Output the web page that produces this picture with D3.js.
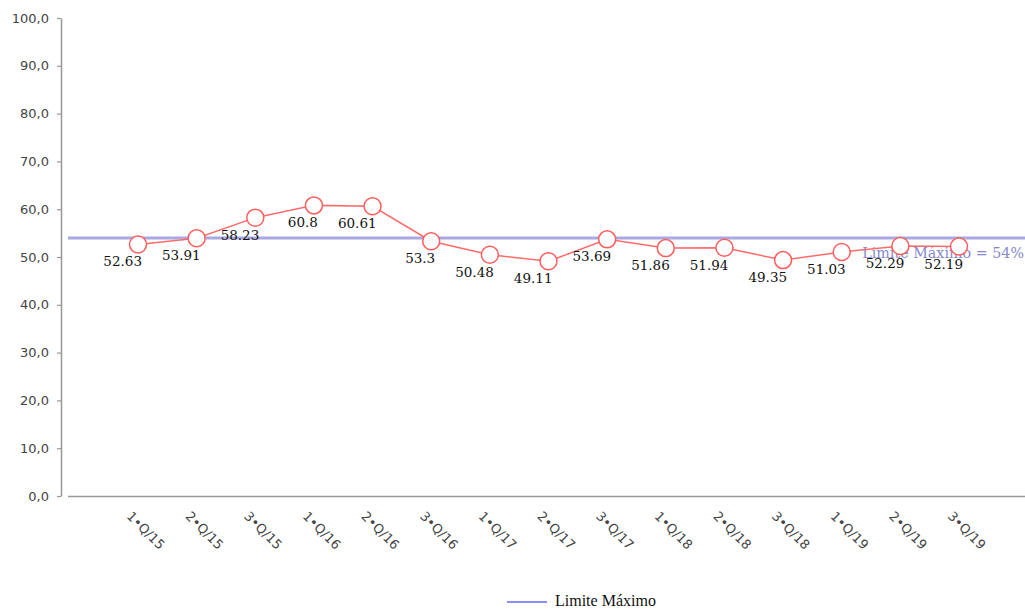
<!DOCTYPE html>
<html><head><meta charset="utf-8">
<script src="https://cdn.jsdelivr.net/npm/d3@7"></script>
<style>body{margin:0;background:#fff}svg{display:block}</style>
</head><body>
<svg id="c" width="1025" height="610"></svg>
<script>
const categories = ["1•Q/15","2•Q/15","3•Q/15","1•Q/16","2•Q/16","3•Q/16","1•Q/17","2•Q/17","3•Q/17","1•Q/18","2•Q/18","3•Q/18","1•Q/19","2•Q/19","3•Q/19"];
const values = [52.63,53.91,58.23,60.8,60.61,53.3,50.48,49.11,53.69,51.86,51.94,49.35,51.03,52.29,52.19];
const limitValue = 54;
const limitLabel = "Limite Máximo = 54%";
const legendLabel = "Limite Máximo";
const yTicks = [0,10,20,30,40,50,60,70,80,90,100];

const svg = d3.select("#c");
const W = 1025;
const y = d3.scaleLinear().domain([0,100]).range([496,18]);
const x = d3.scalePoint().domain(categories).range([138,959]);
const fmt = v => d3.format(".1f")(v).replace(".", ",");

// y axis
const ya = svg.append("g").attr("transform","translate(61,0)")
  .call(d3.axisLeft(y).tickValues(yTicks).tickFormat(fmt).tickSize(4).tickSizeOuter(0));
ya.select(".domain").attr("stroke","#999").attr("stroke-width",1.5);
ya.selectAll(".tick line").attr("stroke","#999").attr("stroke-width",1.2);
ya.selectAll(".tick text").attr("fill","#444").attr("font-family","DejaVu Sans").attr("font-size",13).attr("x",-12);

// x axis line
svg.append("line").attr("x1",68).attr("x2",W).attr("y1",y(0)+0.5).attr("y2",y(0)+0.5)
  .attr("stroke","#999").attr("stroke-width",1.5);

// x labels
svg.append("g").selectAll("text").data(categories).join("text")
  .attr("transform",d=>`translate(${x(d)-12},${y(0)+21}) rotate(45)`)
  .attr("font-family","DejaVu Sans").attr("font-size",13).attr("fill","#444")
  .text(d=>d);

// limit line
svg.append("line").attr("x1",68).attr("x2",W).attr("y1",y(limitValue)).attr("y2",y(limitValue))
  .attr("stroke","#9999dd").attr("stroke-width",3).attr("opacity",0.85);
svg.append("text").attr("x",W-1).attr("y",y(limitValue)+20).attr("text-anchor","end")
  .attr("font-family","DejaVu Serif").attr("font-size",14.3).attr("fill","#8888cc")
  .text(limitLabel);

// series line
svg.append("path").datum(values)
  .attr("d",d3.line().x((d,i)=>x(categories[i])).y(d=>y(d)))
  .attr("fill","none").attr("stroke","#ff6b6b").attr("stroke-width",1.5);

// markers
svg.append("g").selectAll("circle").data(values).join("circle")
  .attr("cx",(d,i)=>x(categories[i])).attr("cy",d=>y(d)).attr("r",8.5)
  .attr("fill","#fff").attr("stroke","#ff5c5c").attr("stroke-width",1.5);

// value labels
svg.append("g").selectAll("text").data(values).join("text")
  .attr("x",(d,i)=>x(categories[i])+4).attr("y",d=>y(d)+22)
  .attr("text-anchor","end").attr("font-family","DejaVu Serif").attr("font-size",13.5).attr("fill","#111")
  .text(d=>String(d));

// legend
svg.append("line").attr("x1",507).attr("x2",547).attr("y1",602).attr("y2",602)
  .attr("stroke","#6666ff").attr("stroke-width",1.5);
svg.append("text").attr("x",555).attr("y",606)
  .attr("font-family","Liberation Serif").attr("font-size",16).attr("fill","#111")
  .text(legendLabel);
</script>
</body></html>
